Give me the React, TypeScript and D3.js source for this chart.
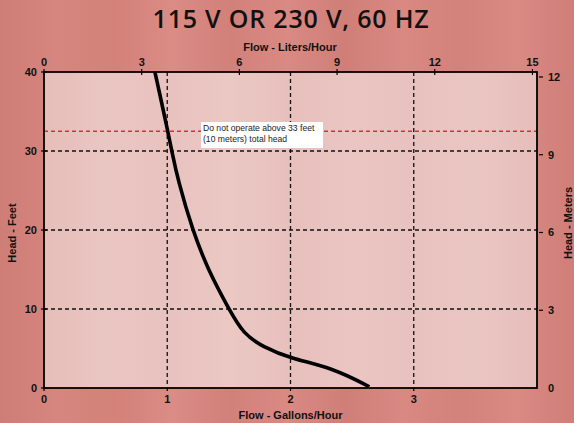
import React from "react";
import * as d3 from "d3";

const W = 574;
const H = 423;

const title = "115 V OR 230 V, 60 HZ";
const gallonTicks = [0, 1, 2, 3];
const literTicks = [0, 3, 6, 9, 12, 15];
const feetTicks = [0, 10, 20, 30, 40];
const meterTicks = [0, 3, 6, 9, 12];
const gridGallons = [1, 2, 3];
const gridFeet = [10, 20, 30];
const maxHeadFeet = 32.5;

const curveGallons = [0.9, 1.005, 1.038, 1.087, 1.206, 1.333, 1.5, 1.62, 1.776, 1.995, 2.344, 2.64];
const curveFeet = [40, 32.5, 29.9, 26.3, 19.9, 14.9, 10.0, 6.8, 5.23, 3.76, 2.53, 0.16];

const L_PER_GAL = 3.785;
const M_PER_FT = 0.3048;

const bgStops = ["#cf7d77", "#d6867e", "#d38179", "#da8c85", "#d2807a", "#d98a83", "#d07e78", "#d88982", "#d3827b", "#d98a83", "#cf7e78"];
const plotStops = ["#e6bdb9", "#eac6c2", "#e8c2be", "#ebc8c4", "#e7c0bc", "#eac5c1", "#e8c2be", "#eac6c2", "#e6bebb"];

export default function App() {
  const left = 44, right = 537, top = 72, bottom = 388;
  const x = d3.scaleLinear().domain([0, 4]).range([left, right]);
  const xL = d3.scaleLinear().domain([0, 4 * L_PER_GAL]).range([left, right]);
  const y = d3.scaleLinear().domain([0, 40]).range([bottom, top]);
  const yM = d3.scaleLinear().domain([0, 40 * M_PER_FT]).range([bottom, top]);

  const pts: [number, number][] = curveGallons.map((g, i) => [g, curveFeet[i]]);
  const line = d3
    .line<[number, number]>()
    .x((d) => x(d[0]))
    .y((d) => y(d[1]))
    .curve(d3.curveBasis);

  const bold = { fontFamily: "Liberation Sans, Arial, sans-serif", fontWeight: 700, fontSize: 11, fill: "#111" } as const;

  return (
    <svg width={W} height={H} style={{ position: "absolute", left: 0, top: 0 }}>
      <defs>
        <linearGradient id="bg" x1="0" x2="1" y1="0" y2="0">
          {bgStops.map((c, i) => (
            <stop key={i} offset={i / (bgStops.length - 1)} stopColor={c} />
          ))}
        </linearGradient>
        <linearGradient id="plotbg" x1="0" x2="1" y1="0" y2="0">
          {plotStops.map((c, i) => (
            <stop key={i} offset={i / (plotStops.length - 1)} stopColor={c} />
          ))}
        </linearGradient>
        <clipPath id="clip">
          <rect x={left} y={top} width={right - left} height={bottom - top} />
        </clipPath>
      </defs>
      <rect x={0} y={0} width={W} height={H} fill="url(#bg)" />
      <rect x={left} y={top} width={right - left} height={bottom - top} fill="url(#plotbg)" />

      <text x={291} y={28} textAnchor="middle" fontFamily="Open Sans, sans-serif" fontWeight={600} fontSize={25} letterSpacing={0.8} fill="#111">
        {title}
      </text>

      {/* grid */}
      {gridGallons.map((g) => (
        <line key={"gx" + g} x1={x(g)} x2={x(g)} y1={top} y2={bottom} stroke="#111" strokeWidth={1.3} strokeDasharray="4,3" />
      ))}
      {gridFeet.map((f) => (
        <line key={"gy" + f} x1={left} x2={right} y1={y(f)} y2={y(f)} stroke="#111" strokeWidth={1.3} strokeDasharray="4,3" />
      ))}
      <line x1={left} x2={right} y1={y(maxHeadFeet)} y2={y(maxHeadFeet)} stroke="#d6303c" strokeWidth={1.3} strokeDasharray="4,3" />

      {/* annotation */}
      <rect x={201} y={122} width={122} height={26} fill="#ffffff" />
      <text x={203} y={131} fontFamily="Liberation Sans, Arial, sans-serif" fontSize={8.6} fill="#222">
        Do not operate above 33 feet
      </text>
      <text x={203} y={142} fontFamily="Liberation Sans, Arial, sans-serif" fontSize={8.6} fill="#222">
        (10 meters) total head
      </text>

      {/* curve */}
      <path d={line(pts) || ""} fill="none" stroke="#000" strokeWidth={3.6} strokeLinejoin="round" clipPath="url(#clip)" />

      {/* frame */}
      <rect x={left} y={top} width={right - left} height={bottom - top} fill="none" stroke="#000" strokeWidth={1.8} />

      {/* bottom axis */}
      {gallonTicks.map((g) => (
        <g key={"bt" + g}>
          <line x1={x(g)} x2={x(g)} y1={bottom} y2={bottom + 3} stroke="#000" strokeWidth={1.2} />
          <text x={x(g)} y={403} textAnchor="middle" {...bold}>
            {g}
          </text>
        </g>
      ))}
      <text x={x(2)} y={419} textAnchor="middle" {...bold}>
        Flow - Gallons/Hour
      </text>

      {/* top axis */}
      {literTicks.map((l) => (
        <g key={"tt" + l}>
          <line x1={xL(l)} x2={xL(l)} y1={top - 3} y2={top + 3} stroke="#000" strokeWidth={1.2} />
          <text x={xL(l)} y={66} textAnchor="middle" {...bold}>
            {l}
          </text>
        </g>
      ))}
      <text x={290} y={51} textAnchor="middle" {...bold}>
        Flow - Liters/Hour
      </text>

      {/* left axis */}
      {feetTicks.map((f) => (
        <g key={"lt" + f}>
          <line x1={left - 3} x2={left + 3} y1={y(f)} y2={y(f)} stroke="#000" strokeWidth={1.2} />
          <text x={37} y={y(f) + 4} textAnchor="end" {...bold}>
            {f}
          </text>
        </g>
      ))}
      <text transform={`translate(16,${233}) rotate(-90)`} textAnchor="middle" {...bold}>
        Head - Feet
      </text>

      {/* right axis */}
      {meterTicks.map((m) => (
        <g key={"rt" + m}>
          {m > 0 && <line x1={539} x2={543} y1={yM(m)} y2={yM(m)} stroke="#000" strokeWidth={1.2} />}
          <text x={548} y={yM(m) + 4} textAnchor="start" {...bold}>
            {m}
          </text>
        </g>
      ))}
      <text transform={`translate(572,${223}) rotate(-90)`} textAnchor="middle" {...bold}>
        Head - Meters
      </text>
    </svg>
  );
}
